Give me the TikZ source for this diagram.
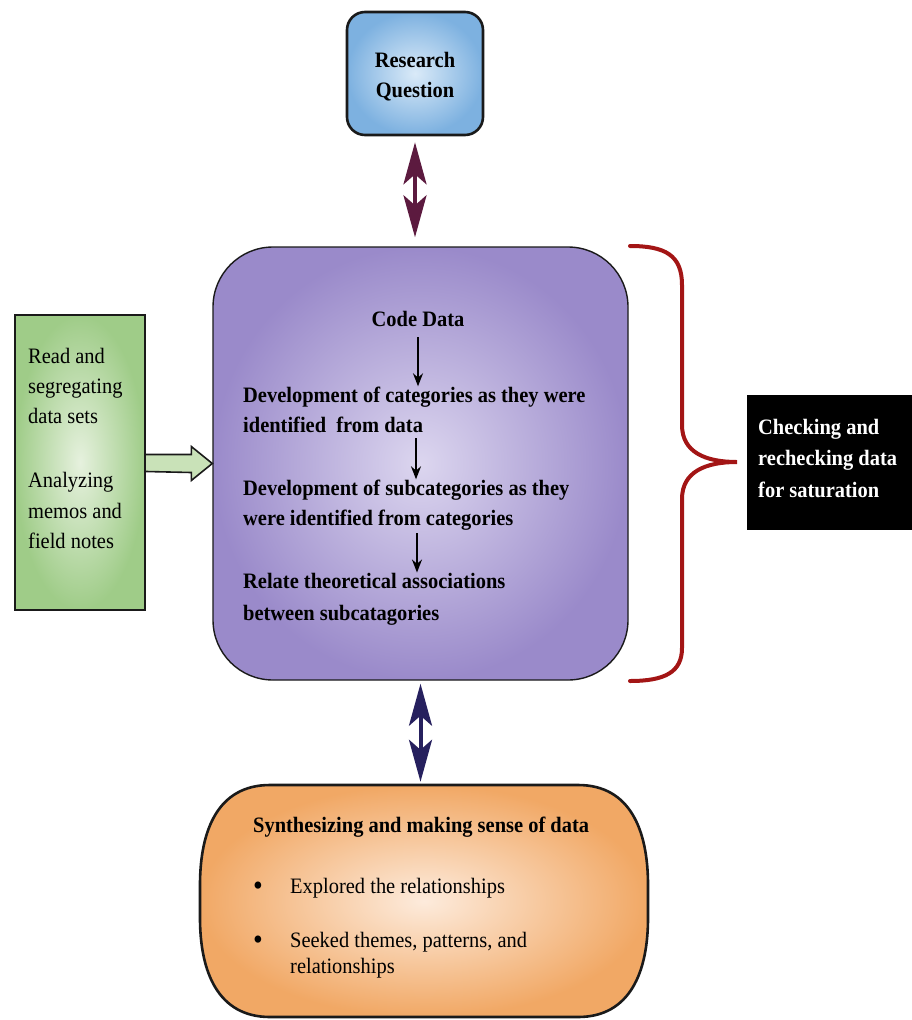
\documentclass[tikz,border=0pt]{standalone}
\usepackage{fontspec}
\setmainfont{Liberation Serif}[FakeStretch=0.93]
\usetikzlibrary{arrows.meta,shadings,calc}
\definecolor{bluein}{HTML}{DAEAF8}
\definecolor{blueout}{HTML}{7DB1E0}
\definecolor{purpin}{HTML}{DCD6EF}
\definecolor{purpout}{HTML}{9A8ACA}
\definecolor{greenin}{HTML}{E6F1DE}
\definecolor{greenout}{HTML}{9FCC88}
\definecolor{orangein}{HTML}{FDEBDC}
\definecolor{orangeout}{HTML}{F1A865}
\definecolor{maroonarr}{HTML}{5C1A3F}
\definecolor{navyarr}{HTML}{26205E}
\definecolor{bracered}{HTML}{A31515}
\definecolor{edge}{HTML}{1A1A1A}
\definecolor{garrowfill}{HTML}{C9E2B8}
\begin{document}
\begin{tikzpicture}[x=1pt,y=-1pt,
  every node/.style={inner sep=0pt, font=\fontsize{22}{30}\selectfont},
  bt/.style={font=\fontsize{22}{30}\selectfont\bfseries},
  rt/.style={font=\fontsize{22}{30}\selectfont},
  bul/.style={font=\fontsize{30}{30}\selectfont},
  wt/.style={font=\fontsize{22}{30}\selectfont\bfseries, text=white},
  rqbox/.style={draw=edge, line width=2.6pt, rounded corners=18pt, inner color=bluein, outer color=blueout},
  mainbox/.style={draw=edge, line width=1.4pt, rounded corners=60pt, inner color=purpin, outer color=purpout},
  gbox/.style={draw=edge, line width=2.2pt, inner color=greenin, outer color=greenout},
  bigarrow/.style={line width=4pt, {Stealth[length=42pt,width=23pt,inset=10pt]}-{Stealth[length=42pt,width=23pt,inset=10pt]}},
  shaft/.style={line width=4pt},
  smallarrow/.style={line width=1.8pt, -{Stealth[length=13pt,width=10pt]}}
]
\useasboundingbox (0,0) rectangle (912,1020);

% Research question
\node[rqbox, minimum width=136pt, minimum height=123pt] (rq) at (415,73.5) {};
\node[bt, anchor=base] (rq1) at (415,67) {Research};
\node[bt, anchor=base] (rq2) at (415,97) {Question};

% Main box
\node[mainbox, minimum width=415pt, minimum height=433pt] (main) at (420.5,463.5) {};
\node[bt, anchor=base] (code) at (418,326) {Code Data};
\node[bt, anchor=base west] (d1a) at (243,402) {Development of categories as they were};
\node[bt, anchor=base west] (d1b) at (243,432) {identified\ \ from data};
\node[bt, anchor=base west] (d2a) at (243,495) {Development of subcategories as they};
\node[bt, anchor=base west] (d2b) at (243,525) {were identified from categories};
\node[bt, anchor=base west] (d3a) at (243,588) {Relate theoretical associations};
\node[bt, anchor=base west] (d3b) at (243,620) {between subcatagories};
\coordinate (a1s) at (418,337);
\coordinate (a2s) at (416,438);
\coordinate (a3s) at (417,533);
\draw[smallarrow] (a1s) -- (a1s |- d1a.north);
\draw[smallarrow] (a2s) -- (a2s |- d2a.north);
\draw[smallarrow] (a3s) -- (a3s |- d3a.north);

% Green box
\node[gbox, minimum width=130pt, minimum height=295pt] (green) at (80,462.5) {};
\node[rt, anchor=base west] (g1) at (28,363) {Read and};
\node[rt, anchor=base west] (g2) at (28,393) {segregating};
\node[rt, anchor=base west] (g3) at (28,423) {data sets};
\node[rt, anchor=base west] (g4) at (28,487) {Analyzing};
\node[rt, anchor=base west] (g5) at (28,518) {memos and};
\node[rt, anchor=base west] (g6) at (28,548) {field notes};
\draw[draw=edge, line width=1.6pt, fill=garrowfill, line join=miter]
  ($(green.east)+(0,-8)$) -- ($(main.west)+(-21,-9)$) -- ($(main.west)+(-21,-17)$)
  -- (main.west) -- ($(main.west)+(-21,17)$) -- ($(main.west)+(-21,9)$)
  -- ($(green.east)+(0,9)$);

% Black box
\node[fill=black, minimum width=165pt, minimum height=135pt, anchor=north west] (chk) at (747,395) {};
\node[wt, anchor=base west] (c1) at (758,434) {Checking and};
\node[wt, anchor=base west] (c2) at (758,465) {rechecking data};
\node[wt, anchor=base west] (c3) at (758,497) {for saturation};

% Brace
\draw[bracered, line width=4pt, line cap=round]
  (630,246) .. controls (665,246) and (682,255) .. (682,285)
  -- (682,425) .. controls (682,452) and (705,462) .. (737,462)
  .. controls (705,462) and (682,472) .. (682,499)
  -- (682,648) .. controls (682,672) and (665,681) .. (630,681);

% Orange box
\node[minimum width=448pt, minimum height=232pt] (synth) at (424,901) {};
\path[draw=edge, line width=2.6pt, inner color=orangein, outer color=orangeout]
  (270,785) -- (578,785) .. controls (630,785) and (648,830) .. (648,885)
  -- (648,918) .. controls (648,972) and (630,1017) .. (578,1017)
  -- (270,1017) .. controls (218,1017) and (200,972) .. (200,918)
  -- (200,885) .. controls (200,830) and (218,785) .. (270,785) -- cycle;
\node[bt, anchor=base west] (s0) at (253,832) {Synthesizing and making sense of data};
\node[bul, anchor=base] (b1) at (258,895) {•};
\node[rt, anchor=base west] (s1) at (290,893) {Explored the relationships};
\node[bul, anchor=base] (b2) at (258,949) {•};
\node[rt, anchor=base west] (s2) at (290,947) {Seeked themes, patterns, and};
\node[rt, anchor=base west] (s3) at (290,973) {relationships};

% Big arrows
\draw[shaft, maroonarr, shorten <=20pt, shorten >=25pt] (rq.south) -- (rq.south |- main.north);
\draw[bigarrow, maroonarr, shorten <=6pt, shorten >=9pt] (rq.south) -- (rq.south |- main.north);
\draw[shaft, navyarr, shorten <=15pt, shorten >=15pt] (main.south) -- (main.south |- synth.north);
\draw[bigarrow, navyarr, shorten <=3pt, shorten >=3pt] (main.south) -- (main.south |- synth.north);
\end{tikzpicture}
\end{document}
